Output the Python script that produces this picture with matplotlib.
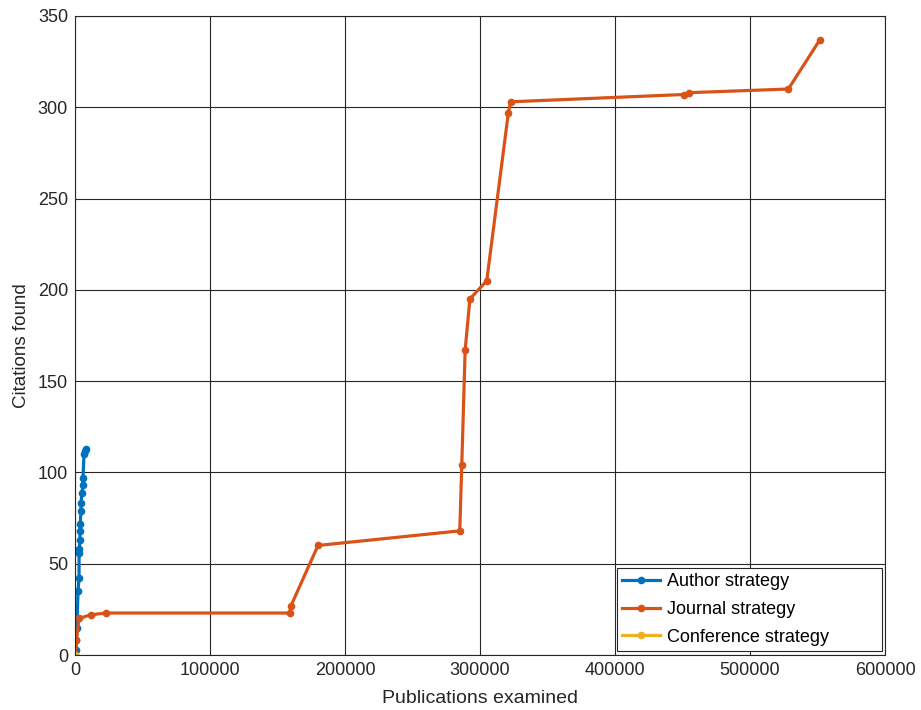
import numpy as np
import matplotlib
matplotlib.use("Agg")
import matplotlib.pyplot as plt

plt.rcParams['font.family'] = ['Liberation Sans', 'DejaVu Sans']

# author strategy (publications examined, citations found)
author_x = [0, 740, 1000, 1500, 2200, 3000, 3000, 3200, 3700, 3700, 3900, 4400, 4400,
            5200, 5900, 5900, 6700, 7400, 8100]
author_y = [0, 3, 8, 15, 35, 42, 56, 58, 63, 68, 72, 79, 83,
            89, 93, 97, 110, 112, 113]

# journal strategy
journal_x = [0, 1000, 3000, 11500, 23000, 159000, 160000, 180000, 285000, 286500,
             289000, 292500, 305000, 321000, 322700, 451000, 454800, 528400, 551800]
journal_y = [0, 8, 20, 22, 23, 23, 27, 60, 68, 104,
             167, 195, 205, 297, 303, 307, 308, 310, 337]

# conference strategy
conf_x = [0, 0]
conf_y = [0, 0]

fig = plt.figure(figsize=(9.21, 7.10), dpi=100)
ax = fig.add_axes([75/921, 55/710, 810/921, 639/710])

ax.plot(author_x, author_y, '-o', color='#0072BD', lw=2.3, ms=4.5, label='Author strategy')
ax.plot(journal_x, journal_y, '-o', color='#D95319', lw=2.3, ms=4.5, label='Journal strategy')
ax.plot(conf_x, conf_y, '-o', color='#EDB120', lw=2.3, ms=4.5, label='Conference strategy')

ax.set_xlim(0, 600000)
ax.set_ylim(0, 350)
ax.set_xticks(np.arange(0, 600001, 100000))
ax.set_yticks(np.arange(0, 351, 50))
ax.ticklabel_format(style='plain', axis='x')
ax.grid(True, color='#262626', lw=0.8)
ax.set_axisbelow(True)
ax.tick_params(direction='in', length=0, labelsize=13, colors='#262626', pad=5)
for s in ax.spines.values():
    s.set_color('#262626')
    s.set_linewidth(0.8)

ax.set_xlabel('Publications examined', fontsize=14, color='#262626')
ax.set_ylabel('Citations found', fontsize=13.5, color='#262626')
ax.xaxis.set_label_coords(0.5, -0.055)
ax.yaxis.set_label_coords(-0.056, 0.484)

# legend box placed like the matlab one (lower right, extra room on the right)
leg = ax.legend(loc='lower left', bbox_to_anchor=(0.669, 0.006, 0.327, 0.131),
                mode='expand', borderaxespad=0, fontsize=13, fancybox=False,
                framealpha=1, edgecolor='#262626', handlelength=2.1,
                handletextpad=0.35, labelspacing=0.6, borderpad=0.3)
leg.get_frame().set_linewidth(0.8)

fig.savefig('out.png', dpi=100)
